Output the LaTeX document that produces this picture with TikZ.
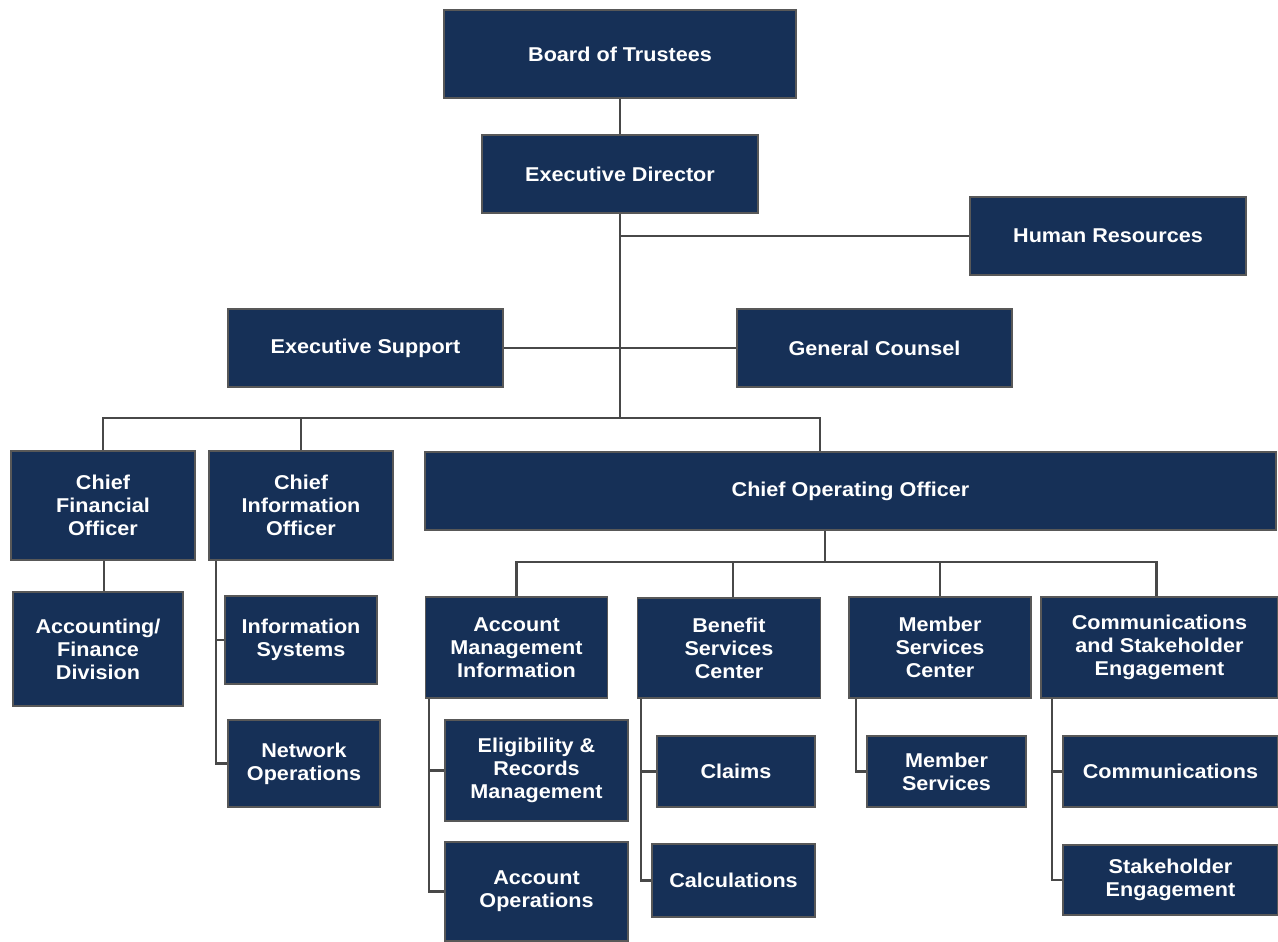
\documentclass[tikz,border=0pt]{standalone}
\usepackage{fontspec}
\usetikzlibrary{backgrounds}
\setmainfont{Liberation Sans}[FakeStretch=1.08]
\definecolor{navy}{RGB}{22,48,87}
\definecolor{edgegray}{RGB}{88,88,88}
\definecolor{linegray}{RGB}{72,72,72}
\tikzset{
  box/.style={draw=edgegray, line width=1.6pt, fill=navy, text=white,
    font=\bfseries\fontsize{20}{23}\selectfont, align=center, inner sep=0pt},
  conn/.style={draw=linegray, line width=2.2pt, line cap=rect}
}
\begin{document}
\begin{tikzpicture}[x=1pt,y=-1pt]
\useasboundingbox (0,0) rectangle (1278,942);
% nodes
\node[box, minimum width=352, minimum height=88] (bot) at (620,54) {Board of Trustees};
\node[box, minimum width=276, minimum height=78] (ed) at (620,174) {Executive Director};
\node[box, minimum width=276, minimum height=78] (hr) at (1108,236) {Human Resources};
\node[box, minimum width=275, minimum height=78] (es) at (365.5,348) {Executive Support};
\node[box, minimum width=275, minimum height=78] (gc) at (874.5,348) {General Counsel};
\node[box, minimum width=184, minimum height=109] (cfo) at (103,505.5) {Chief\\Financial\\Officer};
\node[box, minimum width=184, minimum height=109] (cio) at (301,505.5) {Chief\\Information\\Officer};
\node[box, minimum width=851, minimum height=78] (coo) at (850.5,491) {Chief Operating Officer};
\node[box, minimum width=170, minimum height=114] (afd) at (98,649) {Accounting/\\Finance\\Division};
\node[box, minimum width=152, minimum height=88] (is) at (301,640) {Information\\Systems};
\node[box, minimum width=152, minimum height=87] (no) at (304,763.5) {Network\\Operations};
\node[box, minimum width=182, minimum height=101] (ami) at (516.5,647.5) {Account\\Management\\Information};
\node[box, minimum width=183, minimum height=100] (bsc) at (729,648) {Benefit\\Services\\Center};
\node[box, minimum width=182, minimum height=101] (msc) at (940,647.5) {Member\\Services\\Center};
\node[box, minimum width=237, minimum height=101] (cse) at (1159.5,647.5) {Communications\\and Stakeholder\\Engagement};
\node[box, minimum width=183, minimum height=101] (erm) at (536.5,770.5) {Eligibility \&\\Records\\Management};
\node[box, minimum width=183, minimum height=99] (ao) at (536.5,891.5) {Account\\Operations};
\node[box, minimum width=158, minimum height=71] (cl) at (736,771.5) {Claims};
\node[box, minimum width=163, minimum height=73] (ca) at (733.5,880.5) {Calculations};
\node[box, minimum width=159, minimum height=71] (ms) at (946.5,771.5) {Member\\Services};
\node[box, minimum width=215, minimum height=71] (com) at (1170.5,771.5) {Communications};
\node[box, minimum width=215, minimum height=70] (se) at (1170.5,880) {Stakeholder\\Engagement};
% coordinates
\coordinate (busL) at (104,418);
\coordinate (busR) at (820,418);
\coordinate (sbus) at (825,562);
% connectors
\begin{scope}[on background layer]
\fill[white] (0,0) rectangle (1278,942);
\draw[conn] (bot.south) -- (ed.north);
\draw[conn] (ed.south) -- (ed.south |- busR);
\draw[conn] (ed.south |- hr.west) -- (hr.west);
\draw[conn] (es.east) -- (gc.west);
\draw[conn] (cfo.north) |- (busR) -- (coo.north -| busR);
\draw[conn] (cio.north |- busL) -- (cio.north);
\draw[conn] (cfo.south -| busL) -- (busL |- afd.north);
\draw[conn] ([xshift=8pt]cio.south west) |- (is.west);
\draw[conn] ([xshift=8pt]cio.south west) |- (no.west);
\draw[conn] (coo.south -| sbus) -- (sbus);
\draw[conn] (ami.north) |- (sbus) -| ([xshift=-3pt]cse.north);
\draw[conn] ([xshift=4pt]bsc.north |- sbus) -- ([xshift=4pt]bsc.north);
\draw[conn] (msc.north |- sbus) -- (msc.north);
\draw[conn] ([xshift=4.5pt]ami.south west) |- (erm.west);
\draw[conn] ([xshift=4.5pt]ami.south west) |- (ao.west);
\draw[conn] ([xshift=4.5pt]bsc.south west) |- (cl.west);
\draw[conn] ([xshift=4.5pt]bsc.south west) |- (ca.west);
\draw[conn] ([xshift=8pt]msc.south west) |- (ms.west);
\draw[conn] ([xshift=12pt]cse.south west) |- (com.west);
\draw[conn] ([xshift=12pt]cse.south west) |- (se.west);
\end{scope}
\end{tikzpicture}
\end{document}
